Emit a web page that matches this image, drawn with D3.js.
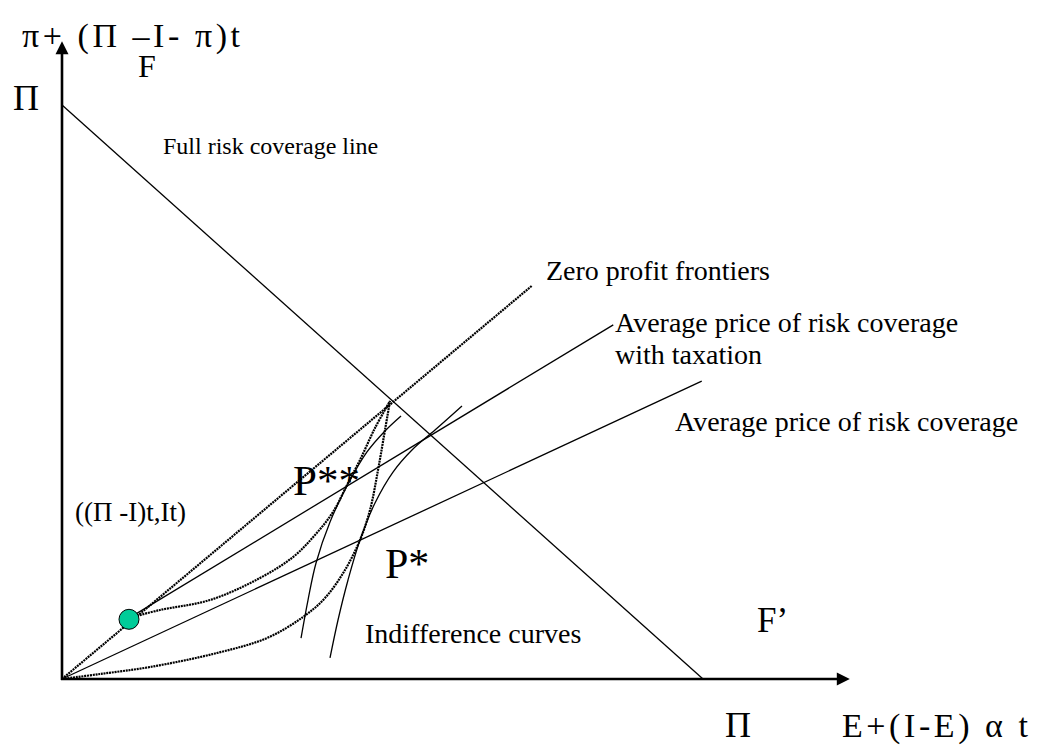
<!DOCTYPE html>
<html>
<head>
<meta charset="utf-8">
<script src="https://cdn.jsdelivr.net/npm/d3@7"></script>
<style>
  body { margin: 0; background: #fff; }
  text { font-family: "Liberation Serif", "Times New Roman", serif; fill: #000; }
</style>
</head>
<body>
<div id="chart"></div>
<script>
// values in chart units: origin = 0, Pi = 100 on both axes
var axisEnds = { x: 122.9, y: 111.1 };
var fullRisk = [[0, 100], [100, 0]];
var zeroProfit = [[0, 0], [73.3, 68.5]];
var avgPriceTax = [[10.45, 10.6], [86.0, 61.7]];
var avgPrice = [[0, 0], [99.8, 51.9]];
var startPoint = [10.45, 10.4];

// indifference curves (dotted ones end at the apex on the zero profit line)
var curveTax = [[10.45, 10.63], [15.29, 12.02], [23.09, 13.76], [30.89, 17.6], [36.04, 21.25],
  [39.47, 25.09], [42.28, 29.09], [44.62, 34.15], [46.49, 38.15], [48.83, 43.73], [51.17, 48.43]];
var curveNoTax = [[0, 0], [5.93, 0.87], [13.73, 2.09], [24.18, 4.53], [31.98, 7.14], [37.6, 10.8],
  [41.03, 14.11], [44.15, 18.99], [46.49, 24.22], [48.05, 29.44], [49.3, 36.41], [50.39, 43.38], [51.17, 48.43]];
var curveSolid1 = [[37.29, 7.14], [38.38, 13.76], [39.63, 20.21], [41.81, 27.35], [44.62, 33.97],
  [47.58, 39.55], [50.39, 43.21], [52.89, 45.82]];
var curveSolid2 = [[41.81, 3.66], [43.06, 10.28], [44.62, 17.25], [46.49, 24.22], [48.83, 30.66],
  [51.64, 36.06], [54.6, 39.9], [58.19, 43.38], [62.4, 47.56]];

var width = 1044;
var height = 751;

var svg = d3.select("div#chart").append("svg")
    .attr("width", width)
    .attr("height", height);

var x = d3.scaleLinear().domain([0, 100]).range([62, 703]);
var y = d3.scaleLinear().domain([0, 100]).range([679, 105]);

var line = d3.line()
    .x(function(d){ return x(d[0]); })
    .y(function(d){ return y(d[1]); });
var curve = d3.line()
    .x(function(d){ return x(d[0]); })
    .y(function(d){ return y(d[1]); })
    .curve(d3.curveCatmullRom.alpha(0.5));

// straight lines
var solidLines = [fullRisk, avgPriceTax, avgPrice];
svg.selectAll("path.solid")
    .data(solidLines)
    .enter()
    .append("path")
    .attr("class", "solid")
    .attr("d", line)
    .attr("fill", "none")
    .attr("stroke", "#000")
    .attr("stroke-width", 1.3);

svg.append("path")
    .attr("d", line(zeroProfit))
    .attr("fill", "none")
    .attr("stroke", "#000")
    .attr("stroke-width", 2.2)
    .attr("stroke-dasharray", "2,0.8");

// indifference curves
svg.selectAll("path.dcurve")
    .data([curveTax, curveNoTax])
    .enter()
    .append("path")
    .attr("class", "dcurve")
    .attr("d", curve)
    .attr("fill", "none")
    .attr("stroke", "#000")
    .attr("stroke-width", 2.2)
    .attr("stroke-dasharray", "2,0.8");

svg.selectAll("path.scurve")
    .data([curveSolid1, curveSolid2])
    .enter()
    .append("path")
    .attr("class", "scurve")
    .attr("d", curve)
    .attr("fill", "none")
    .attr("stroke", "#000")
    .attr("stroke-width", 1.3);

// axes with arrow heads
svg.append("line")
    .attr("x1", x(0)).attr("y1", y(0) + 1)
    .attr("x2", x(0)).attr("y2", y(axisEnds.y) + 10)
    .attr("stroke", "#000").attr("stroke-width", 2.6);
svg.append("line")
    .attr("x1", x(0) - 1).attr("y1", y(0))
    .attr("x2", x(axisEnds.x) - 10).attr("y2", y(0))
    .attr("stroke", "#000").attr("stroke-width", 2.6);

var ty = y(axisEnds.y), tx = x(axisEnds.x);
svg.append("path")
    .attr("d", "M" + x(0) + "," + ty + "l-6.5,13l13,0z")
    .attr("fill", "#000");
svg.append("path")
    .attr("d", "M" + tx + "," + y(0) + "l-13,-6.5l0,13z")
    .attr("fill", "#000");

// starting point
svg.append("circle")
    .attr("cx", x(startPoint[0]))
    .attr("cy", y(startPoint[1]))
    .attr("r", 10)
    .attr("fill", "#00CC99")
    .attr("stroke", "#000")
    .attr("stroke-width", 1);

// labels
var labels = [
  { t: "π+ (Π –I- π)t", x: 22, y: 47, s: 34, len: 218 },
  { t: "F", x: 138, y: 77, s: 32 },
  { t: "Π", x: 13, y: 110, s: 36 },
  { t: "Full risk coverage line", x: 163, y: 154, s: 24 },
  { t: "Zero profit frontiers", x: 546, y: 280, s: 28 },
  { t: "Average price of risk coverage", x: 615, y: 332, s: 28 },
  { t: "with taxation", x: 615, y: 364, s: 28 },
  { t: "Average price of risk coverage", x: 675, y: 431, s: 28 },
  { t: "((Π -I)t,It)", x: 75, y: 521, s: 27 },
  { t: "P**", x: 293, y: 495, s: 43 },
  { t: "P*", x: 385, y: 578, s: 42 },
  { t: "Indifference curves", x: 365, y: 643, s: 28 },
  { t: "F’", x: 757, y: 632, s: 35 },
  { t: "Π", x: 725, y: 737, s: 36 },
  { t: "E+(I-E) α t", x: 842, y: 737, s: 34, len: 186 }
];

svg.selectAll("text.lbl")
    .data(labels)
    .enter()
    .append("text")
    .attr("class", "lbl")
    .attr("x", function(d){ return d.x; })
    .attr("y", function(d){ return d.y; })
    .attr("font-size", function(d){ return d.s + "px"; })
    .each(function(d){
        if (d.len) d3.select(this).attr("textLength", d.len).attr("lengthAdjust", "spacing");
    })
    .text(function(d){ return d.t; });
</script>
</body>
</html>
